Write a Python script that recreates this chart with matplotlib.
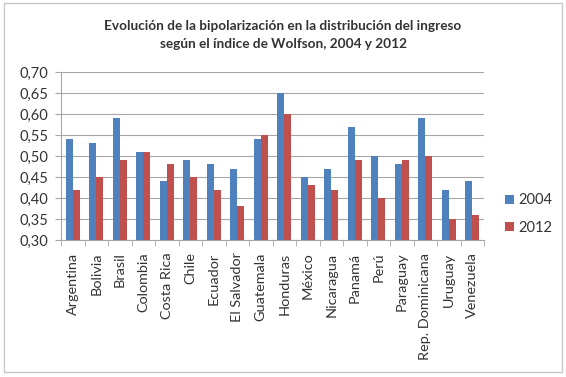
import matplotlib.pyplot as plt
import numpy as np
from matplotlib.patches import Rectangle

paises = ["Argentina", "Bolivia", "Brasil", "Colombia", "Costa Rica", "Chile",
          "Ecuador", "El Salvador", "Guatemala", "Honduras", "México",
          "Nicaragua", "Panamá", "Perú", "Paraguay", "Rep. Dominicana",
          "Uruguay", "Venezuela"]
v2004 = [0.54, 0.53, 0.59, 0.51, 0.44, 0.49, 0.48, 0.47, 0.54, 0.65, 0.45,
         0.47, 0.57, 0.50, 0.48, 0.59, 0.42, 0.44]
v2012 = [0.42, 0.45, 0.49, 0.51, 0.48, 0.45, 0.42, 0.38, 0.55, 0.60, 0.43,
         0.42, 0.49, 0.40, 0.49, 0.50, 0.35, 0.36]
yticks = [0.30, 0.35, 0.40, 0.45, 0.50, 0.55, 0.60, 0.65, 0.70]

plt.rcParams['font.family'] = ['Lato', 'DejaVu Sans']

fig = plt.figure(figsize=(5.66, 3.77), dpi=100)
fig.patches.append(Rectangle((0.007, 0.013), 0.986, 0.98, transform=fig.transFigure,
                             fill=False, edgecolor='#c8c8c8', linewidth=1))
ax = fig.add_axes([61 / 566, 1 - 240 / 377, (484 - 61) / 566, (240 - 72) / 377])

x = np.arange(len(paises))
w = 0.3
ax.bar(x - w / 2, v2004, w, bottom=0, color='#4F81BD', label='2004', zorder=3)
ax.bar(x + w / 2, v2012, w, bottom=0, color='#C0504D', label='2012', zorder=3)

ax.set_ylim(0.30, 0.70)
ax.set_xlim(-0.5, len(paises) - 0.5)
ax.set_yticks(yticks)
ax.set_yticklabels([f"{t:.2f}".replace('.', ',') for t in yticks], fontsize=10.5, color='#333333')
ax.yaxis.grid(True, color='#a6a6a6', linewidth=0.8, zorder=0)
ax.tick_params(axis='y', length=4, color='#a6a6a6', pad=5)

ax.set_xticks(x)
ax.set_xticklabels(paises, rotation=90, fontsize=10.4, color='#333333')
ax.tick_params(axis='x', length=0, pad=9)
ax.set_xticks(np.arange(-0.5, len(paises), 1), minor=True)
ax.tick_params(axis='x', which='minor', length=4, color='#a6a6a6')

for s in ['top', 'right']:
    ax.spines[s].set_visible(False)
for s in ['left', 'bottom']:
    ax.spines[s].set_color('#a6a6a6')

fig.text(0.5, 1 - 35 / 377, "Evolución de la bipolarización en la distribución del ingreso\n"
         "según el índice de Wolfson, 2004 y 2012", ha='center', va='center',
         fontsize=9.8, fontweight='bold', color='#333333', linespacing=1.55)

fig.legend(loc='center left', bbox_to_anchor=(492 / 566, 1 - 214 / 377), frameon=False,
           fontsize=10.5, handlelength=0.6, handleheight=0.6, handletextpad=0.3,
           labelspacing=0.9, labelcolor='#333333')

fig.savefig('out.png', dpi=100)
